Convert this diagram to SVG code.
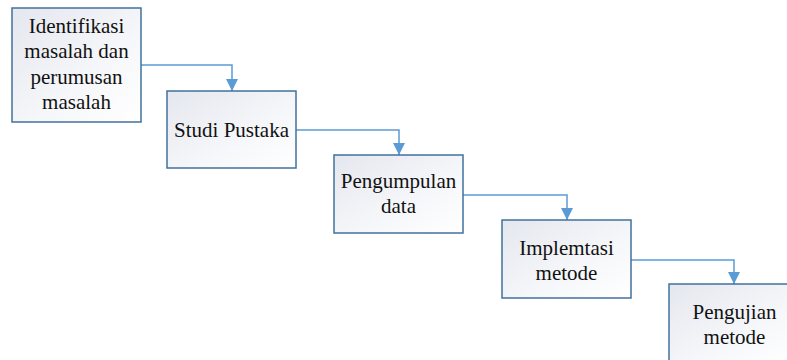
<svg xmlns="http://www.w3.org/2000/svg" width="787" height="360" viewBox="0 0 787 360" font-family="Liberation Serif" font-size="21px">
  <style>
    .box { fill: url(#boxfill); stroke: #41719c; stroke-width: 1.5px; }
    .conn { fill: none; stroke: #5b9bd5; stroke-width: 1.5px; marker-end: url(#arrow); }
  </style>
  <defs>
    <linearGradient id="boxfill" x1="0" y1="0" x2="1" y2="1">
      <stop offset="0" stop-color="#e4e7ee"/>
      <stop offset="0.6" stop-color="#f6f7fa"/>
      <stop offset="1" stop-color="#ffffff"/>
    </linearGradient>
    <marker id="arrow" viewBox="0 0 12 12" refX="12" refY="6" markerWidth="12" markerHeight="12" markerUnits="userSpaceOnUse" orient="auto">
      <path d="M0,0 L12,6 L0,12 Z" fill="#5b9bd5"/>
    </marker>
  </defs>
  <rect width="787" height="360" fill="#ffffff"/>
  <g id="connectors">
    <path class="conn" d="M141,65 H232 V91"/>
    <path class="conn" d="M296,130 H399 V155"/>
    <path class="conn" d="M463,195 H567 V220"/>
    <path class="conn" d="M631,260 H734 V284"/>
  </g>
  <g id="node1">
    <rect class="box" x="12" y="8" width="129" height="114"/>
    <text x="76.5" y="33" text-anchor="middle" fill="#111">Identifikasi</text>
    <text x="76.5" y="58" text-anchor="middle" fill="#111">masalah dan</text>
    <text x="76.5" y="84" text-anchor="middle" fill="#111">perumusan</text>
    <text x="76.5" y="109" text-anchor="middle" fill="#111">masalah</text>
  </g>
  <g id="node2">
    <rect class="box" x="167" y="91" width="129" height="77"/>
    <text x="231.5" y="137" text-anchor="middle" fill="#111">Studi Pustaka</text>
  </g>
  <g id="node3">
    <rect class="box" x="334" y="155" width="129" height="78"/>
    <text x="398.5" y="188" text-anchor="middle" fill="#111">Pengumpulan</text>
    <text x="398.5" y="213" text-anchor="middle" fill="#111">data</text>
  </g>
  <g id="node4">
    <rect class="box" x="502" y="220" width="129" height="78"/>
    <text x="566.5" y="255" text-anchor="middle" fill="#111">Implemtasi</text>
    <text x="566.5" y="280" text-anchor="middle" fill="#111">metode</text>
  </g>
  <g id="node5">
    <rect class="box" x="669" y="284" width="130" height="78"/>
    <text x="734.5" y="319" text-anchor="middle" fill="#111">Pengujian</text>
    <text x="734.5" y="344" text-anchor="middle" fill="#111">metode</text>
  </g>
</svg>
